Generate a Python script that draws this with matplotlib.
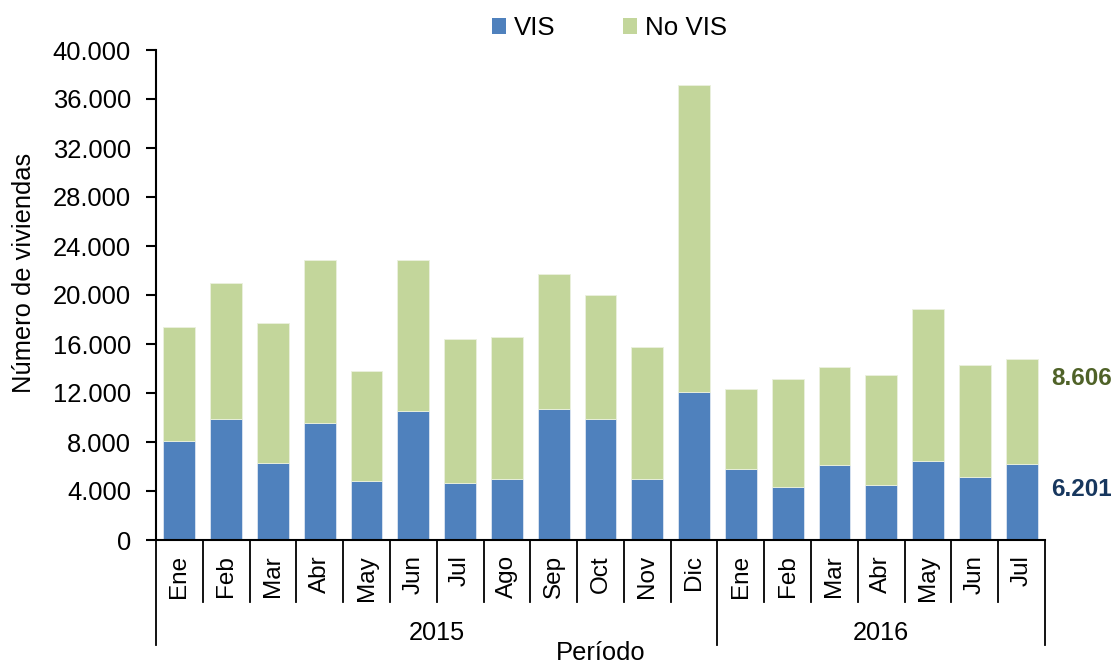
import numpy as np
import matplotlib.pyplot as plt
from matplotlib.lines import Line2D
from matplotlib.patches import Patch
from matplotlib.ticker import FuncFormatter

plt.rcParams['font.family'] = ['Liberation Sans', 'DejaVu Sans']

meses = ['Ene', 'Feb', 'Mar', 'Abr', 'May', 'Jun', 'Jul', 'Ago', 'Sep', 'Oct', 'Nov', 'Dic',
         'Ene', 'Feb', 'Mar', 'Abr', 'May', 'Jun', 'Jul']
anios = ['2015', '2016']
meses_por_anio = [12, 7]

vis = [8080, 9850, 6290, 9520, 4820, 10500, 4650, 4980, 10670, 9850, 4980, 12110,
       5800, 4330, 6120, 4490, 6450, 5140, 6201]
total = [17370, 20950, 17690, 22860, 13800, 22860, 16380, 16550, 21700, 19970, 15730, 37140,
         12330, 13140, 14100, 13440, 18830, 14260, 14807]
no_vis = [t - v for t, v in zip(total, vis)]

c_vis = '#4F81BD'
c_novis = '#C3D69B'

fig = plt.figure(figsize=(11.13, 6.63), dpi=100)
ax = fig.add_axes([156 / 1113, 1 - 540 / 663, (1045 - 156) / 1113, 490 / 663])

x = np.arange(len(meses))
ax.bar(x, vis, width=0.68, color=c_vis, edgecolor='#DCE6F2', linewidth=0.6)
ax.bar(x, no_vis, bottom=vis, width=0.68, color=c_novis, edgecolor='#EBF1DE', linewidth=0.6)

ax.set_xlim(-0.5, len(meses) - 0.5)
ax.set_ylim(0, 40000)
ax.set_yticks(np.arange(0, 40001, 4000))
ax.yaxis.set_major_formatter(FuncFormatter(lambda v, p: f'{int(v):,}'.replace(',', '.')))
ax.tick_params(axis='y', labelsize=18.4, length=7, width=1.5, direction='out', pad=11)
ax.set_xticks(x)
ax.set_xticklabels(meses, rotation=90, fontsize=17.5)
ax.tick_params(axis='x', length=0, pad=11)

for s in ['top', 'right']:
    ax.spines[s].set_visible(False)
ax.spines['left'].set_linewidth(1.5)
ax.spines['bottom'].set_linewidth(1.5)

# separadores del eje agrupado
tr = ax.get_xaxis_transform()
limites = np.cumsum([0] + meses_por_anio) - 0.5
for i in range(len(meses) + 1):
    xb = i - 0.5
    y_end = -0.214 if xb in limites else -0.126
    ax.add_line(Line2D([xb, xb], [0, y_end], transform=tr, color='black', lw=1.3, clip_on=False))

inicio = 0
for anio, n in zip(anios, meses_por_anio):
    ax.text(inicio + (n - 1) / 2, -0.19, anio, transform=tr, ha='center', va='center', fontsize=18.2)
    inicio += n

ax.text(0.5, -0.231, 'Período', transform=ax.transAxes, ha='center', va='center', fontsize=18.4)
fig.text(24 / 1113, 1 - 273 / 663, 'Número de viviendas', rotation=90, ha='center', va='center',
         fontsize=18.4)

# etiquetas del último mes
ax.annotate(f'{no_vis[-1]:,}'.replace(',', '.'), xy=(x[-1] + 0.34, total[-1]), xytext=(10, -14),
            textcoords='offset points', ha='left', va='center', fontsize=17.5, fontweight='bold',
            color='#4F6228', annotation_clip=False)
ax.annotate(f'{vis[-1]:,}'.replace(',', '.'), xy=(x[-1] + 0.34, vis[-1]), xytext=(10, -18),
            textcoords='offset points', ha='left', va='center', fontsize=17.5, fontweight='bold',
            color='#17375E', annotation_clip=False)

handles = [Patch(facecolor=c_vis, label='VIS'), Patch(facecolor=c_novis, label='No VIS')]
fig.legend(handles=handles, loc='center', bbox_to_anchor=(609.5 / 1113, 1 - 28 / 663), ncol=2,
           frameon=False, fontsize=18.6, handlelength=0.55, handleheight=0.55,
           handletextpad=0.3, columnspacing=2.6)

fig.savefig('out.png', dpi=100)
